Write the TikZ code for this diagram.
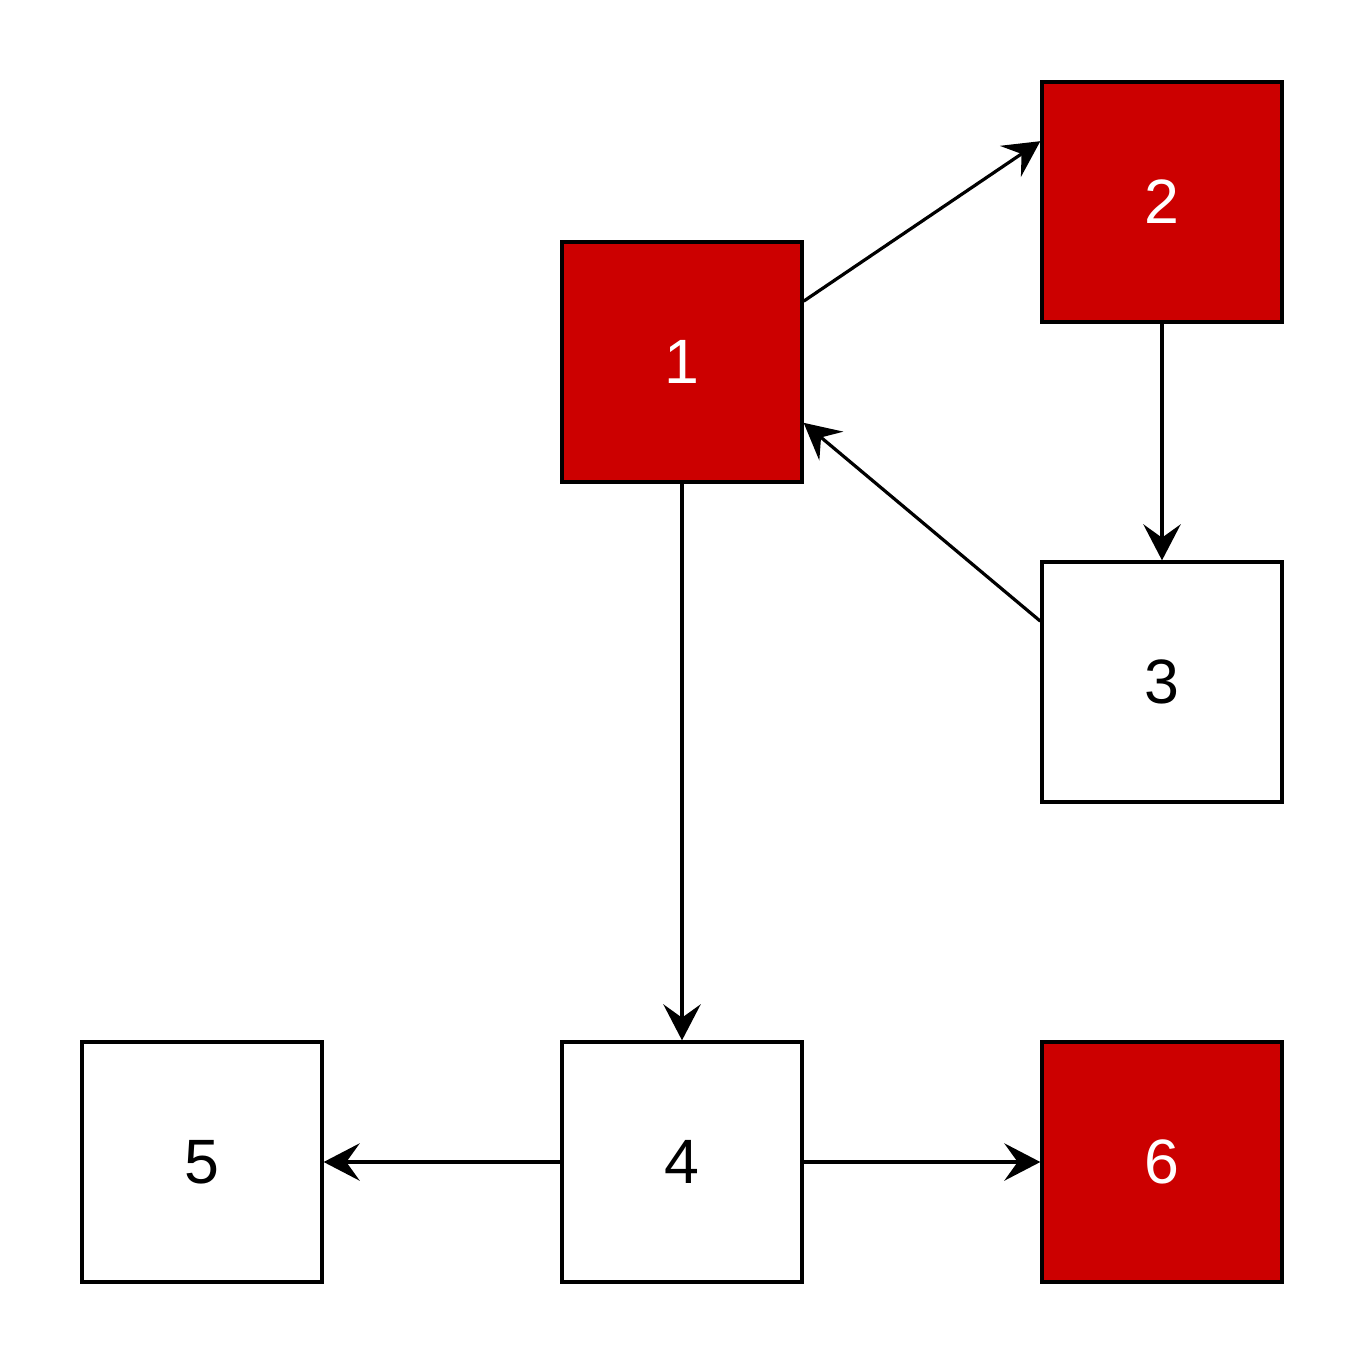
\documentclass[tikz,border=0pt]{standalone}
\usepackage{fontspec}
\setmainfont{Liberation Sans}
\usetikzlibrary{arrows.meta,calc}
\definecolor{boxred}{HTML}{CC0000}
\begin{document}
\begin{tikzpicture}[x=0.75pt,y=-0.75pt,
  box/.style={draw=black,line width=2.5pt,minimum width=180pt,minimum height=180pt,inner sep=0pt,font=\fontsize{47}{56}\selectfont,anchor=center},
  redbox/.style={box,fill=boxred,text=white},
  whitebox/.style={box,fill=white,text=black},
  conn/.style={line width=2.4pt,-{Stealth[length=27pt,width=28pt,inset=10pt]}}]
\useasboundingbox (0,0) rectangle (1364,1368);
\node[redbox] (n1) at (682,362) {1};
\node[redbox] (n2) at (1162,202) {2};
\node[whitebox] (n3) at (1162,682) {3};
\node[whitebox] (n4) at (682,1162) {4};
\node[whitebox] (n5) at (202,1162) {5};
\node[redbox] (n6) at (1162,1162) {6};
\draw[conn] ($(n1.north east)!0.25!(n1.south east)$) -- ($(n2.north west)!0.25!(n2.south west)$);
\draw[conn] (n2.south) -- (n3.north);
\draw[conn] ($(n3.north west)!0.25!(n3.south west)$) -- ($(n1.north east)!0.75!(n1.south east)$);
\draw[conn] (n1.south) -- (n4.north);
\draw[conn] (n4.west) -- (n5.east);
\draw[conn] (n4.east) -- (n6.west);
\end{tikzpicture}
\end{document}
